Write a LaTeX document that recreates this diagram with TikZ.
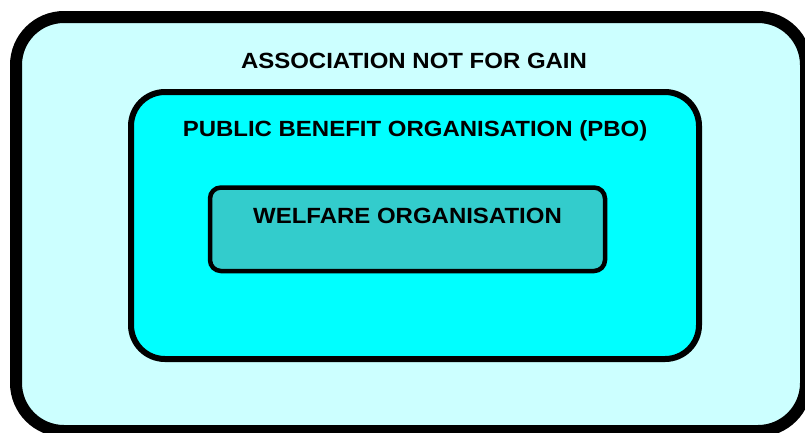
\documentclass[tikz,border=0pt]{standalone}
\usepackage{fontspec}
\setmainfont{Liberation Sans}
\newfontfamily\labelfont[FakeStretch=1.09]{Liberation Sans}
\usepackage{xcolor}
\usetikzlibrary{positioning,calc}

\definecolor{palecyan}{HTML}{CCFFFF}
\definecolor{brightcyan}{HTML}{00FFFF}
\definecolor{darkcyan}{HTML}{33CCCC}

\tikzset{
    orgbox/.style={draw=black, rounded corners=#1, inner sep=0pt, outer sep=0pt, anchor=north west},
    orglabel/.style={font=\labelfont\bfseries\fontsize{22}{24}\selectfont, anchor=base, inner sep=0pt}
}

\begin{document}
\begin{tikzpicture}[x=1pt,y=-1pt]
        \useasboundingbox (0,0) rectangle (805,432);

        % Association not for gain
        \node[orgbox=48pt, line width=12pt, fill=palecyan,
              minimum width=790pt, minimum height=414pt] (assoc) at (16,17) {};
        \node[orglabel] (assoclabel) at (414,68) {ASSOCIATION NOT FOR GAIN};

        % Public benefit organisation
        \node[orgbox=34pt, line width=6pt, fill=brightcyan,
              minimum width=568pt, minimum height=267pt] (pbo) at (131,92) {};
        \node[orglabel] (pbolabel) at (415,136) {PUBLIC BENEFIT ORGANISATION (PBO)};

        % Welfare organisation
        \node[orgbox=11pt, line width=4.5pt, fill=darkcyan,
              minimum width=395pt, minimum height=83.5pt] (welfare) at (210,187.5) {};
        \node[orglabel] (welfarelabel) at (407.5,223) {WELFARE ORGANISATION};
    \end{tikzpicture}
\end{document}
